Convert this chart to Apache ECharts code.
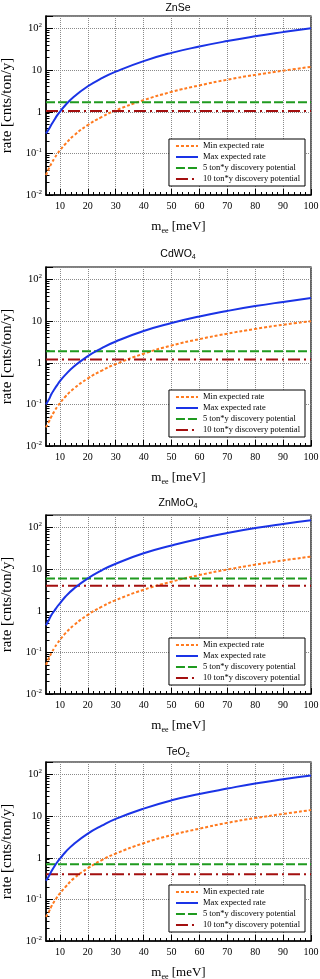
<!DOCTYPE html>
<html>
<head>
<meta charset="utf-8">
<title>Expected rate vs m_ee</title>
<script src="https://cdn.jsdelivr.net/npm/echarts@6/dist/echarts.min.js"></script>
<style>
  html, body { margin: 0; padding: 0; background: #fff; }
  #chart { width: 320px; height: 979px; }
</style>
</head>
<body>
<div id="chart"></div>
<script>
// sampled effective masses [meV]
const masses = [5, 6, 7, 8, 9, 10, 12, 15, 20, 25, 30, 40, 50, 60, 70, 80, 90, 100];

// rates [cnts/ton/y]
const znseMin = [0.03, 0.043, 0.058, 0.076, 0.096, 0.118, 0.17, 0.27, 0.48, 0.75, 1.08, 1.9, 3.0, 4.3, 5.9, 7.7, 9.7, 12];
const znseMax = [0.3, 0.38, 0.5, 0.64, 0.82, 1.0, 1.45, 2.3, 4.1, 6.4, 9.2, 16.5, 26, 37, 50, 65, 82, 102];
const cdwo4Min = [0.028, 0.038, 0.052, 0.068, 0.087, 0.107, 0.155, 0.24, 0.42, 0.65, 0.93, 1.65, 2.6, 3.7, 5.0, 6.5, 8.2, 10];
const cdwo4Max = [0.1, 0.13, 0.18, 0.23, 0.29, 0.36, 0.52, 0.81, 1.45, 2.25, 3.25, 5.8, 9.0, 13, 17.6, 23, 29, 36];
const znmoo4Min = [0.05, 0.072, 0.098, 0.128, 0.162, 0.2, 0.29, 0.45, 0.8, 1.25, 1.8, 3.2, 5.0, 7.2, 9.8, 12.8, 16.2, 20];
const znmoo4Max = [0.45, 0.6, 0.8, 1.0, 1.25, 1.5, 2.2, 3.4, 6.0, 9.4, 13.5, 24, 37, 54, 74, 97, 122, 150];
const teo2Min = [0.038, 0.05, 0.069, 0.09, 0.113, 0.14, 0.2, 0.32, 0.56, 0.88, 1.26, 2.24, 3.5, 5.0, 6.9, 9.0, 11.3, 14];
const teo2Max = [0.28, 0.36, 0.48, 0.62, 0.78, 0.95, 1.38, 2.15, 3.8, 5.9, 8.6, 15.2, 24, 34, 46, 61, 77, 95];

// discovery potentials per panel
const discovery5 = [1.7, 1.9, 6, 0.7];
const discovery10 = [1.05, 1.2, 4, 0.4];

const panelTitles = ['ZnSe', '{t|CdWO}{u|4}', '{t|ZnMoO}{u|4}', '{t|TeO}{u|2}'];
const minRates = [znseMin, cdwo4Min, znmoo4Min, teo2Min];
const maxRates = [znseMax, cdwo4Max, znmoo4Max, teo2Max];
const seriesNames = ['Min expected rate', 'Max expected rate', '5 ton*y discovery potential', '10 ton*y discovery potential'];

const xMajorTicks = [10, 20, 30, 40, 50, 60, 70, 80, 90, 100];
const X_MIN = 5, X_MAX = 100;
const Y_MIN = 0.01, Y_MAX = 200;

const xMinorTicks = [];
for (let v = 6; v < X_MAX; v += 2) {
  if (v % 10 !== 0) xMinorTicks.push(v);
}
const yMinorTicks = [];
for (let d = -2; d <= 2; d++) {
  for (let k = 2; k <= 9; k++) {
    const lv = Math.log10(k * Math.pow(10, d));
    if (lv < Math.log10(Y_MAX) - 1e-6) yMinorTicks.push(lv);
  }
}

const plotTops = [16, 267, 515, 762];
const titleTops = [3, 247, 496, 745];
const PLOT_H = 179;

const serif = "'Liberation Serif', 'DejaVu Serif', serif";
const sans = "'Liberation Sans', Arial, sans-serif";
const colors = ['#ff7a1f', '#1a33e6', '#1f9a1f', '#a30f0f'];
const dashes = [[3, 2], 'solid', [9, 3], [12, 4, 2, 4]];

function yLabel(value) {
  const lv = Math.log10(value);
  const e = Math.round(lv);
  if (Math.abs(lv - e) > 0.01) return '';
  if (e === 0) return '{b|1}';
  if (e === 1) return '{b|10}';
  return '{b|10}{s|' + e + '}';
}

const tickStyle = { color: '#000', width: 1 };
const grid = [], xAxis = [], yAxis = [], series = [], legend = [], title = [];

plotTops.forEach((top, p) => {
  grid.push({
    left: 46, right: 9, top: top, height: PLOT_H,
    outerBoundsMode: 'none', containLabel: false,
    show: true, borderColor: '#000', borderWidth: 1.2
  });
  title.push({
    text: panelTitles[p], left: 178, top: titleTops[p], textAlign: 'center', padding: 0,
    textStyle: {
      fontFamily: sans, fontSize: 10.5, fontWeight: 'normal', color: '#000',
      rich: {
        t: { fontFamily: sans, fontSize: 10.5, color: '#000' },
        u: { fontFamily: sans, fontSize: 7, color: '#000', padding: [7, 0, 0, 0] }
      }
    }
  });
  xAxis.push({
    type: 'value', gridIndex: p, min: X_MIN, max: X_MAX, position: 'bottom',
    name: '{m|m}{e|ee}{m| [meV]}', nameLocation: 'middle', nameGap: 24,
    nameTextStyle: {
      rich: {
        m: { fontFamily: serif, fontSize: 13, color: '#000' },
        e: { fontFamily: serif, fontSize: 8, color: '#000', padding: [8, 0, 0, 0] }
      }
    },
    axisLine: { show: true, onZero: false, lineStyle: { color: '#000', width: 1.5 } },
    axisTick: { inside: true, length: 6, customValues: xMajorTicks, lineStyle: tickStyle },
    axisLabel: { customValues: xMajorTicks, margin: 6, fontFamily: serif, fontSize: 10, color: '#000' },
    splitLine: { show: true, lineStyle: { type: 'dotted', color: '#8a8a8a', width: 1 } }
  });
  xAxis.push({
    type: 'value', gridIndex: p, min: X_MIN, max: X_MAX, position: 'bottom',
    axisLine: { show: false, onZero: false },
    axisTick: { inside: true, length: 3, customValues: xMinorTicks, lineStyle: tickStyle },
    axisLabel: { show: false },
    splitLine: { show: false }
  });
  yAxis.push({
    type: 'log', logBase: 10, gridIndex: p, min: Y_MIN, max: Y_MAX, position: 'left',
    name: 'rate [cnts/ton/y]', nameLocation: 'middle', nameGap: 30,
    nameTextStyle: { fontFamily: serif, fontSize: 15, color: '#000' },
    axisLine: { show: true, onZero: false, lineStyle: { color: '#000', width: 1.5 } },
    axisTick: { inside: true, length: 7, lineStyle: tickStyle },
    axisLabel: {
      formatter: yLabel, margin: 4,
      rich: {
        b: { fontFamily: serif, fontSize: 10.5, color: '#000' },
        s: { fontFamily: serif, fontSize: 7, color: '#000', padding: [0, 0, 6, 0] }
      }
    },
    splitLine: { show: true, lineStyle: { type: 'dotted', color: '#8a8a8a', width: 1 } }
  });
  yAxis.push({
    type: 'value', gridIndex: p, min: Math.log10(Y_MIN), max: Math.log10(Y_MAX), position: 'left',
    axisLine: { show: false, onZero: false },
    axisTick: { inside: true, length: 3.5, customValues: yMinorTicks, lineStyle: tickStyle },
    axisLabel: { show: false },
    splitLine: { show: false }
  });

  const curves = [
    masses.map((m, i) => [m, minRates[p][i]]),
    masses.map((m, i) => [m, maxRates[p][i]]),
    [[X_MIN, discovery5[p]], [X_MAX, discovery5[p]]],
    [[X_MIN, discovery10[p]], [X_MAX, discovery10[p]]]
  ];
  curves.forEach((data, k) => {
    series.push({
      name: seriesNames[k], type: 'line',
      xAxisIndex: 2 * p, yAxisIndex: 2 * p,
      data: data, symbol: 'none', smooth: k < 2 ? 0.5 : false,
      lineStyle: { color: colors[k], width: 2, type: dashes[k] },
      itemStyle: { color: colors[k] },
      silent: true, z: k === 1 ? 4 : 3
    });
  });

  legend.push({
    data: seriesNames, orient: 'vertical', selectedMode: false,
    right: 15, top: top + 123,
    backgroundColor: '#fff', borderColor: '#000', borderWidth: 1,
    padding: [2, 5, 2, 6], itemGap: 1, itemWidth: 22, itemHeight: 9,
    itemStyle: { opacity: 0 },
    textStyle: { fontFamily: serif, fontSize: 8.5, color: '#000', lineHeight: 10 }
  });
});

const chart = echarts.init(document.getElementById('chart'));
chart.setOption({
  animation: false,
  backgroundColor: '#fff',
  title, grid, xAxis, yAxis, legend, series
});

window.addEventListener('resize', () => chart.resize());
</script>
</body>
</html>
